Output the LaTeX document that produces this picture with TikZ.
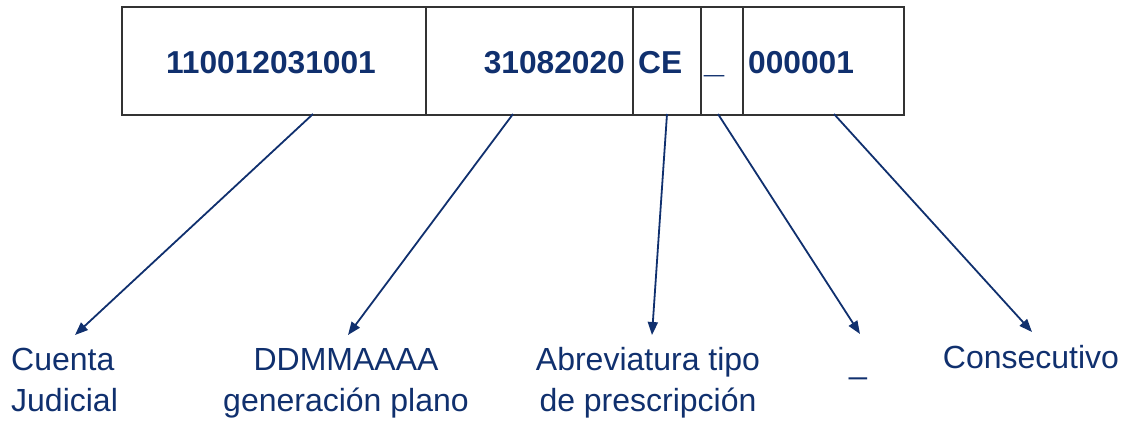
\documentclass[tikz,border=0pt]{standalone}
\usepackage{fontspec}
\setmainfont{Liberation Sans}
\usetikzlibrary{arrows.meta}
\definecolor{navy}{HTML}{10306E}
\definecolor{boxline}{HTML}{333333}
\tikzset{
  cell/.style={draw=boxline, line width=1.6pt, minimum height=108pt, inner sep=0pt, anchor=north west},
  celltext/.style={text=navy, font=\fontsize{31.7}{36}\selectfont\bfseries, inner sep=0pt, anchor=base},
  lbl/.style={text=navy, font=\fontsize{32}{41}\selectfont, inner sep=0pt, anchor=base},
  link/.style={draw=navy, line width=1.8pt, -{Triangle[length=13pt,width=10pt]}}
}
\begin{document}
\begin{tikzpicture}[x=1pt,y=-1pt]
\useasboundingbox (0,0) rectangle (1133,421);
% cells
\node[cell, minimum width=304pt] (c1) at (121,6) {};
\node[cell, minimum width=207pt] (c2) at (425,6) {};
\node[cell, minimum width=68pt] (c3) at (632,6) {};
\node[cell, minimum width=42pt] (c4) at (700,6) {};
\node[cell, minimum width=161pt] (c5) at (742,6) {};
% cell texts
\node[celltext] (t1) at (271,73) {110012031001};
\node[celltext, anchor=base east] (t2) at (625,73) {31082020};
\node[celltext, anchor=base west] (t3) at (638,73) {CE};
\node[celltext, anchor=base west, font=\fontsize{36}{38}\selectfont\bfseries] (t4) at (704,72) {\_};
\node[celltext, anchor=base west] (t5) at (748,73) {000001};
% labels
\node[lbl, anchor=base west, align=left] (l1) at (11,411) {Cuenta\\Judicial};
\node[lbl, align=center] (l2) at (346,411) {DDMMAAAA\\generación plano};
\node[lbl, align=center] (l3) at (648,411) {Abreviatura tipo\\de prescripción};
\node[lbl] (l4) at (858,373) {\_};
\node[lbl] (l5) at (1031,368) {Consecutivo};
% connector endpoints
\coordinate (s1) at (313,114); \coordinate (e1) at (75,335);
\coordinate (s2) at (513,114); \coordinate (e2) at (348,335);
\coordinate (s3) at (667,114); \coordinate (e3) at (652,335);
\coordinate (s4) at (718,114); \coordinate (e4) at (860,334);
\coordinate (s5) at (834,114); \coordinate (e5) at (1032,332);
\draw[link] (s1) -- (e1);
\draw[link] (s2) -- (e2);
\draw[link] (s3) -- (e3);
\draw[link] (s4) -- (e4);
\draw[link] (s5) -- (e5);
\end{tikzpicture}
\end{document}
